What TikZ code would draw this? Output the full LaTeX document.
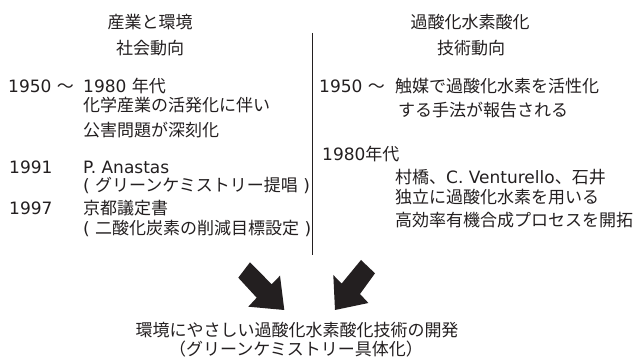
\documentclass[tikz,border=0pt]{standalone}
\usepackage{fontspec}
\setmainfont{Noto Sans CJK JP}
\newfontfamily\latfont{DejaVu Sans}
\newcommand\lt[1]{{\latfont #1}}
\definecolor{ink}{HTML}{231F20}
\begin{document}
\begin{tikzpicture}[x=1pt,y=-1pt,
  txt/.style={font=\fontsize{17}{20}\selectfont, text=ink, inner sep=0pt},
  lw/.style={txt, anchor=base west},
  ctr/.style={txt, anchor=base},
  blockarrow/.style={fill=ink, draw=none}]
\fill[white] (0,0) rectangle (638,363);
\useasboundingbox (0,0) rectangle (638,363);
% headers
\node[ctr] (h1) at (150,28.5) {産業と環境};
\node[ctr] (h2) at (150,54.5) {社会動向};
\node[ctr] (h3) at (470,28.5) {過酸化水素酸化};
\node[ctr] (h4) at (471,54.5) {技術動向};
% left column
\node[lw] (l1) at (8,92.5) {\makebox[75pt][l]{\lt{1950 }〜}\lt{1980 }年代};
\node[lw] (l2) at (83,111.5) {化学産業の活発化に伴い};
\node[lw] (l3) at (83,136.5) {公害問題が深刻化};
\node[lw] (l4y) at (9,173.5) {\lt{1991}};
\node[lw] (l4) at (83,173.5) {\lt{P. Anastas}};
\node[lw] (l5) at (83,191.5) {\lt{( }グリーンケミストリー提唱\lt{ )}};
\node[lw] (l6y) at (9,214.5) {\lt{1997}};
\node[lw] (l6) at (83,214.5) {京都議定書};
\node[lw] (l7) at (83,234.5) {\lt{( }二酸化炭素の削減目標設定\lt{ )}};
% right column
\node[lw] (r1) at (319,92.5) {\makebox[76pt][l]{\lt{1950 }〜}触媒で過酸化水素を活性化};
\node[lw] (r2) at (398,116.5) {する手法が報告される};
\node[lw] (r3) at (322,160.5) {\lt{1980}年代};
\node[lw] (r4) at (395,183.5) {村橋、\lt{C. Venturello}、石井};
\node[lw] (r5) at (395,203.5) {独立に過酸化水素を用いる};
\node[lw] (r6) at (395,226.5) {高効率有機合成プロセスを開拓};
% divider
\coordinate (vt) at (312,33);
\coordinate (vb) at (312,255);
\draw[ink, line width=1pt] (vt) -- (vb);
% block arrows
\fill[blockarrow] (250,262.3) -- (271.7,284.3) -- (280,275.7) -- (284.3,310)
  -- (248.3,306.7) -- (256.7,297.7) -- (238.3,277.7) -- cycle;
\fill[blockarrow] (361,260) -- (375,273.3) -- (360,294) -- (368.4,303)
  -- (335,310) -- (333.3,275) -- (341.6,283.6) -- cycle;
% bottom
\node[ctr] (b1) at (297,336.5) {環境にやさしい過酸化水素酸化技術の開発};
\node[ctr] (b2) at (296,355.5) {（グリーンケミストリー具体化）};
\end{tikzpicture}
\end{document}
